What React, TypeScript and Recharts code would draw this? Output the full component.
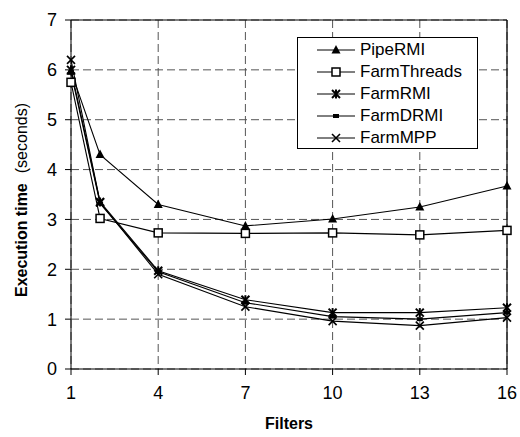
import React from "react";
import { CartesianGrid, Line, LineChart, ReferenceLine, XAxis, YAxis } from "recharts";

const filters = [1, 2, 4, 7, 10, 13, 16];
const xTicks = [1, 4, 7, 10, 13, 16];
const yTicks = [0, 1, 2, 3, 4, 5, 6, 7];

const pipeRMI = [5.97, 4.3, 3.3, 2.87, 3.01, 3.25, 3.67];
const farmThreads = [5.75, 3.02, 2.73, 2.72, 2.73, 2.69, 2.78];
const farmRMI = [6.0, 3.35, 1.97, 1.39, 1.13, 1.13, 1.23];
const farmDRMI = [5.95, 3.32, 1.95, 1.33, 1.05, 1.0, 1.13];
const farmMPP = [6.2, 3.34, 1.9, 1.25, 0.96, 0.87, 1.03];

type MarkerKind = "triangle" | "square" | "asterisk" | "dash" | "cross";

const seriesList: { key: string; kind: MarkerKind; values: number[] }[] = [
  { key: "PipeRMI", kind: "triangle", values: pipeRMI },
  { key: "FarmThreads", kind: "square", values: farmThreads },
  { key: "FarmRMI", kind: "asterisk", values: farmRMI },
  { key: "FarmDRMI", kind: "dash", values: farmDRMI },
  { key: "FarmMPP", kind: "cross", values: farmMPP },
];

const data = filters.map((f, i) => {
  const row: Record<string, number> = { filters: f };
  seriesList.forEach((s) => {
    row[s.key] = s.values[i];
  });
  return row;
});

const FONT = "'Liberation Sans', Arial, sans-serif";

function Marker({ kind, cx, cy }: { kind: MarkerKind; cx: number; cy: number }) {
  if (cx == null || cy == null) return null;
  switch (kind) {
    case "triangle":
      return <path d={`M${cx},${cy - 5} L${cx + 4.5},${cy + 3.5} L${cx - 4.5},${cy + 3.5} Z`} fill="#000" />;
    case "square":
      return <rect x={cx - 4} y={cy - 4} width={8} height={8} fill="#fff" stroke="#000" strokeWidth={1.5} />;
    case "asterisk":
      return (
        <g stroke="#000" strokeWidth={2}>
          <line x1={cx - 4} y1={cy - 4} x2={cx + 4} y2={cy + 4} />
          <line x1={cx - 4} y1={cy + 4} x2={cx + 4} y2={cy - 4} />
          <line x1={cx} y1={cy - 4.5} x2={cx} y2={cy + 4.5} />
        </g>
      );
    case "dash":
      return <rect x={cx - 3} y={cy - 2} width={6} height={4} fill="#000" />;
    case "cross":
      return (
        <g stroke="#000" strokeWidth={1.6}>
          <line x1={cx - 4} y1={cy - 4} x2={cx + 4} y2={cy + 4} />
          <line x1={cx - 4} y1={cy + 4} x2={cx + 4} y2={cy - 4} />
        </g>
      );
  }
}

function LegendBox() {
  return (
    <div
      style={{
        position: "absolute",
        left: 297,
        top: 37,
        width: 181,
        height: 112,
        border: "1px solid #000",
        background: "#fff",
        fontFamily: FONT,
        fontSize: 17,
        color: "#000",
        boxSizing: "border-box",
        paddingTop: 1,
      }}
    >
      {seriesList.map((s) => (
        <div key={s.key} style={{ height: 22, display: "flex", alignItems: "center" }}>
          <svg width={62} height={22} style={{ flex: "none" }}>
            <line x1={19} y1={11} x2={57} y2={11} stroke="#000" strokeWidth={1} />
            <Marker kind={s.kind} cx={38} cy={11} />
          </svg>
          <span style={{ lineHeight: "22px" }}>{s.key}</span>
        </div>
      ))}
    </div>
  );
}

function YLabel() {
  return (
    <text
      x={21}
      y={200}
      transform="rotate(-90, 21, 200)"
      textAnchor="middle"
      dominantBaseline="central"
      fontFamily={FONT}
      fontSize={16}
      fill="#000"
    >
      <tspan fontWeight="bold">Execution time</tspan>
      <tspan dx={10}>(seconds)</tspan>
    </text>
  );
}

export default function App() {
  return (
    <div style={{ position: "absolute", left: 0, top: 0, width: 520, height: 437, background: "#fff" }}>
      <LineChart width={520} height={437} data={data} margin={{ top: 20, right: 13, bottom: 0, left: 0 }}>
        <CartesianGrid stroke="#555" strokeDasharray="8 4" />
        <XAxis
          dataKey="filters"
          type="number"
          domain={[1, 16]}
          ticks={xTicks}
          height={68}
          tickSize={6}
          tickMargin={11}
          stroke="#000"
          tick={{ fill: "#000", fontSize: 18, fontFamily: FONT }}
          label={{
            value: "Filters",
            position: "insideBottom",
            offset: 8,
            fill: "#000",
            fontSize: 16,
            fontWeight: "bold",
            fontFamily: FONT,
          }}
        />
        <YAxis
          type="number"
          domain={[0, 7]}
          ticks={yTicks}
          width={71}
          tickSize={6}
          tickMargin={8}
          stroke="#000"
          tick={{ fill: "#000", fontSize: 18, fontFamily: FONT }}
          label={<YLabel />}
        />
        <ReferenceLine y={7} stroke="#000" strokeWidth={1.2} />
        <ReferenceLine x={16} stroke="#000" strokeWidth={1.2} />
        {seriesList.map((s) => (
          <Line
            key={s.key}
            dataKey={s.key}
            type="linear"
            stroke="#000"
            strokeWidth={1.1}
            isAnimationActive={false}
            dot={(p: any) => <Marker key={`${s.key}-${p.index}`} kind={s.kind} cx={p.cx} cy={p.cy} />}
            activeDot={false}
          />
        ))}
      </LineChart>
      <LegendBox />
    </div>
  );
}
